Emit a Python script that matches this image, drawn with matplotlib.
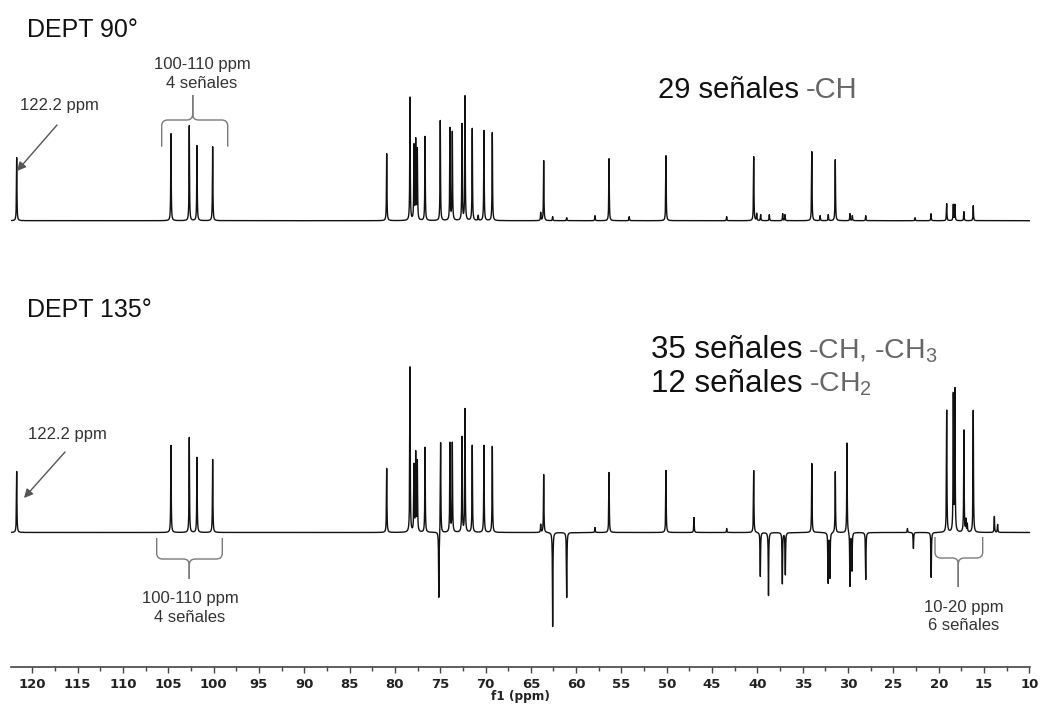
import numpy as np
import matplotlib
matplotlib.use("Agg")
import matplotlib.pyplot as plt
import matplotlib.transforms as mtransforms
from matplotlib.path import Path
from matplotlib.patches import PathPatch
from matplotlib.ticker import MultipleLocator

# peak lists: shift (ppm) and height (arbitrary units)
dept90_ppm = [121.72, 104.70, 102.68, 101.83, 100.10,
              80.90, 78.33, 77.89, 77.70, 77.52, 76.67, 74.99, 73.92, 73.66,
              72.59, 72.26, 71.46, 70.80, 70.17, 69.25, 63.91, 63.58, 62.59,
              61.04, 57.92, 56.37, 54.14, 50.09, 43.39, 40.41, 40.08, 39.64,
              38.69, 37.21, 36.96, 34.00, 33.08, 32.18, 31.41, 29.79, 29.53,
              28.05, 22.61, 20.85, 19.12, 18.39, 18.21, 17.22, 16.19]
dept90_int = [63, 87, 95, 75, 74,
              67, 123, 74, 79, 70, 84, 100, 92, 88,
              96, 124, 92, 5, 90, 88, 8, 60, 4,
              3, 5, 62, 4, 65, 4, 64, 7, 6,
              6, 7, 6, 69, 5, 6, 61, 7, 5,
              5, 3, 7, 17, 16, 16, 9, 15]

dept135_ppm = [121.72, 104.70, 102.68, 101.83, 100.10,
               80.90, 78.33, 77.89, 77.70, 77.52, 76.67, 75.15, 74.95, 73.92,
               73.66, 72.59, 72.26, 71.46, 70.17, 69.25, 63.91, 63.58, 62.59,
               61.04, 57.92, 56.37, 50.09, 47.00, 43.39, 40.41, 39.68, 38.78,
               37.25, 36.92, 34.00, 32.20, 32.00, 31.41, 30.12, 29.79, 29.57,
               28.05, 23.45, 22.79, 20.83, 19.12, 18.39, 18.21, 17.22, 17.00,
               16.85, 16.19, 13.86, 13.50]
dept135_int = [61, 87, 95, 75, 73,
               64, 165, 66, 78, 70, 85, -67, 91, 89,
               89, 95, 123, 87, 87, 86, 8, 58, -94,
               -65, 5, 60, 62, 15, 4, 62, -44, -63,
               -51, -42, 69, -50, -45, 61, 90, -54, -38,
               -47, 4, -16, -45, 122, 136, 141, 102, 12,
               8, 122, 16, 8]

xticks = np.arange(120, 9, -5)

W, H = 1042, 704
XMAX, XMIN = 122.36, 9.93
BASE_TOP, BASE_BOT = 446.0, 134.2


def spectrum(ppm, shifts, heights, hw=0.03):
    y = np.zeros_like(ppm)
    for s, h in zip(shifts, heights):
        y += h / (1 + ((ppm - s) / hw) ** 2)
    return y


def brace(fig, tr, x0, x1, xm, y_end, y_bar, y_tip, c=6):
    s = np.sign(y_tip - y_bar)
    verts, codes = [], []
    for xe in (x0, x1):
        d = np.sign(xm - xe)
        verts += [(xe, y_end), (xe, y_bar - s * c), (xe, y_bar), (xe + d * c, y_bar),
                  (xm - d * c, y_bar), (xm, y_bar), (xm, y_bar + s * c), (xm, y_tip)]
        codes += [Path.MOVETO, Path.LINETO, Path.CURVE3, Path.CURVE3,
                  Path.LINETO, Path.CURVE3, Path.CURVE3, Path.LINETO]
    fig.add_artist(PathPatch(Path(verts, codes), transform=tr, fill=False,
                             ec="#7a7a7a", lw=1.0))


def main():
    plt.rcParams["font.family"] = ["Liberation Sans", "DejaVu Sans"]
    plt.rcParams["mathtext.fontset"] = "custom"
    plt.rcParams["mathtext.rm"] = "Liberation Sans"

    fig = plt.figure(figsize=(W / 100, H / 100), dpi=100)
    fig.patch.set_facecolor("white")
    # reference pixel coordinates (origin top-left)
    ref = mtransforms.Affine2D().scale(1 / W, -1 / H).translate(0, 1) + fig.transFigure

    ax = fig.add_axes([10.9 / W, 1 - 666.7 / H, (1030 - 10.9) / W, 666.7 / H])
    ppm = np.arange(XMIN, XMAX, 0.002)
    ax.plot(ppm, BASE_TOP + spectrum(ppm, dept90_ppm, dept90_int), color="#111111", lw=1.0)
    ax.plot(ppm, BASE_BOT + spectrum(ppm, dept135_ppm, dept135_int), color="#111111", lw=1.0)
    ax.set_xlim(XMAX, XMIN)
    ax.set_ylim(0, 666.7)

    for sp in ("top", "left", "right"):
        ax.spines[sp].set_visible(False)
    ax.spines["bottom"].set_color("#444444")
    ax.spines["bottom"].set_linewidth(1.2)
    ax.set_yticks([])
    ax.set_xticks(xticks)
    ax.xaxis.set_minor_locator(MultipleLocator(2.5))
    ax.tick_params(axis="x", which="major", length=4.3, width=1, color="#444444",
                   pad=4, labelsize=9.5, labelcolor="#222222")
    ax.tick_params(axis="x", which="minor", length=2.9, width=1, color="#444444")
    for lab in ax.get_xticklabels():
        lab.set_fontweight("bold")
        lab.set_family("DejaVu Sans")
    ax.set_xlabel("f1 (ppm)", fontsize=8.7, fontweight="bold", family="DejaVu Sans",
                  color="#222222", labelpad=-1)
    ax.patch.set_visible(False)

    # titles
    fig.text(27, 37, "DEPT 90°", transform=ref, fontsize=18, color="#111111", va="baseline")
    fig.text(27, 317, "DEPT 135°", transform=ref, fontsize=18, color="#111111", va="baseline")

    # signal counts
    fig.text(658, 97.7, "29 señales", transform=ref, fontsize=21, color="#111111", va="baseline")
    fig.text(805.7, 97.7, "-CH", transform=ref, fontsize=21, color="#666666", va="baseline")
    fig.text(651, 358.3, "35 señales", transform=ref, fontsize=22.5, color="#111111", va="baseline")
    fig.text(808.3, 358.3, "-CH, -CH$_3$", transform=ref, fontsize=20.5, color="#666666", va="baseline")
    fig.text(651, 391.7, "12 señales", transform=ref, fontsize=22.5, color="#111111", va="baseline")
    fig.text(809, 391.7, "-CH$_2$", transform=ref, fontsize=20.5, color="#666666", va="baseline")

    # 122.2 ppm arrows
    fig.text(59.7, 110, "122.2 ppm", transform=ref, fontsize=12, color="#333333",
             ha="center", va="baseline")
    fig.text(67, 439.5, "122.2 ppm", transform=ref, fontsize=12, color="#333333",
             ha="center", va="baseline")
    arrow = dict(arrowstyle="-|>", color="#555555", lw=1.0, mutation_scale=13,
                 shrinkA=0, shrinkB=0)
    ax.annotate("", xy=(17, 171), xytext=(57, 125), xycoords=ref, textcoords=ref,
                arrowprops=arrow, annotation_clip=False)
    ax.annotate("", xy=(24, 498), xytext=(65, 452), xycoords=ref, textcoords=ref,
                arrowprops=arrow, annotation_clip=False)

    # braces and ranges
    brace(fig, ref, 161.7, 227.7, 192.7, 146.7, 120, 95)
    fig.text(202, 69.3, "100-110 ppm", transform=ref, fontsize=12, color="#333333",
             ha="center", va="baseline")
    fig.text(202, 88.3, "4 señales", transform=ref, fontsize=12, color="#333333",
             ha="center", va="baseline")

    brace(fig, ref, 156.7, 222.3, 189.3, 538, 559, 579)
    fig.text(190, 602.7, "100-110 ppm", transform=ref, fontsize=12, color="#333333",
             ha="center", va="baseline")
    fig.text(190, 621.5, "4 señales", transform=ref, fontsize=12, color="#333333",
             ha="center", va="baseline")

    brace(fig, ref, 935, 982.7, 958.3, 537, 558, 587)
    fig.text(964, 611.7, "10-20 ppm", transform=ref, fontsize=12, color="#333333",
             ha="center", va="baseline")
    fig.text(964, 630, "6 señales", transform=ref, fontsize=12, color="#333333",
             ha="center", va="baseline")

    fig.savefig("out.png", dpi=100, facecolor="white")


if __name__ == "__main__":
    main()
